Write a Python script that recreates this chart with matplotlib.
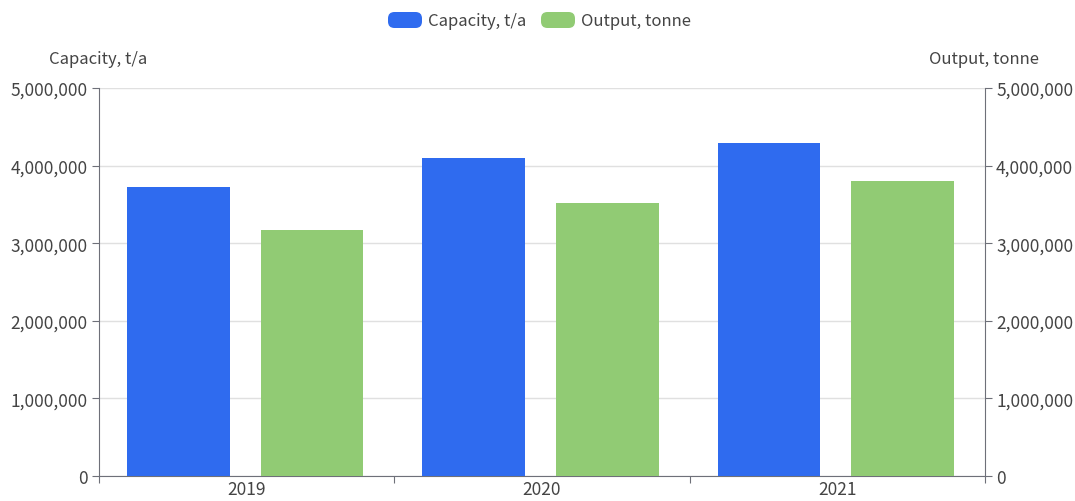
import matplotlib
matplotlib.use("Agg")
import matplotlib.pyplot as plt
from matplotlib.patches import FancyBboxPatch
import numpy as np

years = ["2019", "2020", "2021"]
capacity = [3720000, 4100000, 4290000]
output = [3170000, 3520000, 3800000]
yticks = [0, 1000000, 2000000, 3000000, 4000000, 5000000]

plt.rcParams['font.family'] = ['Noto Sans CJK SC', 'DejaVu Sans']
TXT = '#444444'
AX = '#6E7079'
BLUE = '#2F6BEF'
GREEN = '#91CB74'

fig = plt.figure(figsize=(10.75, 5.02), dpi=100)
ax = fig.add_axes([99/1075, 25/502, 886/1075, 388/502])
x = np.arange(len(years))
w = 0.348
off = 0.226
ax.bar(x - off - 0.005, capacity, width=w, color=BLUE, zorder=3)
ax.bar(x + off - 0.005, output, width=w, color=GREEN, zorder=3)
ax.set_xlim(-0.5, 2.5)
ax.set_ylim(0, 5000000)
ax.set_yticks(yticks)
ax.set_yticklabels([f"{v:,}" for v in yticks], fontsize=12.5, color=TXT)
ax.grid(axis='y', color='#E0E0E0', linewidth=1, zorder=0)
ax.set_xticks([-0.5, 0.5, 1.5, 2.5])
ax.set_xticklabels([])
ax.set_xticks(x, minor=True)
ax.set_xticklabels(years, minor=True, fontsize=12.5, color=TXT)
ax.tick_params(axis='x', which='minor', length=0, pad=3)
ax.tick_params(axis='x', which='major', length=5, color=AX)
ax.tick_params(axis='y', length=5, color=AX, pad=3)
for s in ['top', 'right']:
    ax.spines[s].set_visible(False)
ax.spines['left'].set_color(AX)
ax.spines['bottom'].set_color(AX)

ax2 = ax.twinx()
ax2.set_ylim(0, 5000000)
ax2.set_yticks(yticks)
ax2.set_yticklabels([f"{v:,}" for v in yticks], fontsize=12.5, color=TXT)
ax2.tick_params(axis='y', length=5, color=AX, pad=3)
for s in ['top', 'left', 'bottom']:
    ax2.spines[s].set_visible(False)
ax2.spines['right'].set_color(AX)

fig.text(98/1075, 1 - 60/502, "Capacity, t/a", ha='center', va='center', fontsize=12, color=TXT)
fig.text(984/1075, 1 - 60/502, "Output, tonne", ha='center', va='center', fontsize=12, color=TXT)

# legend
ly = 1 - 21/502
for (x0, lab, col) in [(388, "Capacity, t/a", BLUE), (541, "Output, tonne", GREEN)]:
    p = FancyBboxPatch((x0/1075, ly - 8/502), 34/1075, 16/502,
                       boxstyle="round,pad=0,rounding_size=0.006",
                       transform=fig.transFigure, facecolor=col, edgecolor='none',
                       mutation_aspect=1075/502)
    fig.patches.append(p)
    fig.text((x0 + 40)/1075, ly, lab, ha='left', va='center', fontsize=12, color=TXT)

fig.savefig("out.png", dpi=100)
